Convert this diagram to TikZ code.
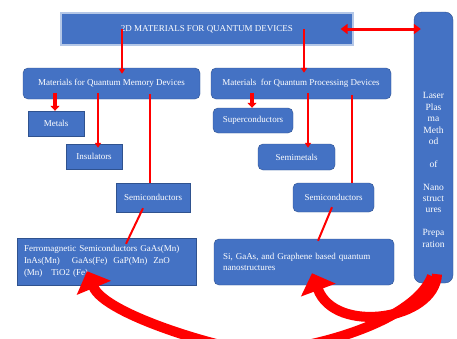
\documentclass[tikz,border=0pt]{standalone}
\usepackage{fontspec}
\setmainfont{Liberation Serif}
\usetikzlibrary{arrows.meta}
\definecolor{boxblue}{HTML}{4472C4}
\definecolor{edgeblue}{HTML}{2F528F}
\definecolor{glowblue}{HTML}{B4C7E7}
\tikzset{
  blockbox/.style={fill=boxblue, draw=edgeblue, line width=0.4pt, text=white,
    font=\fontsize{9}{11}\selectfont, inner sep=2pt, align=center},
  roundbox/.style={blockbox, rounded corners=5pt},
  link/.style={draw=red, line width=2pt},
  linkarrow/.style={link, -{Triangle[width=6pt,length=5pt]}},
  fatarrow/.style={draw=red, line width=4.5pt, -{Triangle[width=9pt,length=5pt]}},
  bigcurve/.style={draw=red, line width=10pt, -{Triangle[width=36pt,length=18pt]}}
}

\begin{document}
\begin{tikzpicture}[x=1pt,y=-1pt]
            \useasboundingbox (0,0) rectangle (457,338);
            % top box and the method column
            \node (title) at (207,29) [blockbox, draw=glowblue, line width=1.2pt, minimum width=292pt, minimum height=32pt]{2D MATERIALS FOR QUANTUM DEVICES};
            \node (laser) at (433.5,147.5) [roundbox, rounded corners=8pt, minimum width=39pt, minimum height=271pt]{};
            \node (lasertext) at (433.5,170) [text=white, align=center, font=\fontsize{9.5}{11.4}\selectfont]{Laser\\Plas\\ma\\Meth\\od\\ \\of\\ \\Nano\\struct\\ures\\ \\Prepa\\ration};
            
            % memory devices
            \node (memory) at (111.5,83.5) [roundbox, minimum width=177pt, minimum height=31pt]{Materials for Quantum Memory Devices};
            \node (metals) at (56,123.5) [blockbox, minimum width=56pt, minimum height=25pt]{Metals};
            \node (insulators) at (94,156.5) [blockbox, minimum width=56pt, minimum height=25pt]{Insulators};
            \node (semimem) at (153,197.5) [blockbox, minimum width=74pt, minimum height=29pt]{Semiconductors};
            \node (ferro) at (106.5,261.5) [blockbox, minimum width=179pt, minimum height=47pt, text width=165pt, align=left, font=\fontsize{9}{12}\selectfont]{Ferromagnetic Semiconductors GaAs(Mn)\\InAs(Mn)\quad\ GaAs(Fe)\ \ GaP(Mn)\ \ ZnO\\(Mn)\ \ \ TiO2 (Fe)};
            
            % processing devices
            \node (processing) at (301,83.5) [roundbox, minimum width=180pt, minimum height=31pt]{Materials\ \ for Quantum Processing Devices};
            \node (supercond) at (253,120.5) [roundbox, minimum width=80pt, minimum height=25pt]{Superconductors};
            \node (semimetals) at (296.5,157) [roundbox, minimum width=77pt, minimum height=26pt]{Semimetals};
            \node (semiproc) at (333.5,197.5) [roundbox, minimum width=81pt, minimum height=29pt]{Semiconductors};
            \node (si) at (304,262) [roundbox, minimum width=180pt, minimum height=46pt, text width=162pt, align=left]{Si, GaAs, and Graphene based quantum\\nanostructures};
            
            % links from the top box
            \draw[linkarrow] ([xshift=-85pt]title.center) -- ([xshift=10.5pt,yshift=-6pt]memory.north);
            \draw[linkarrow] ([xshift=97pt]title.center) -- ([xshift=3pt,yshift=-5pt]processing.north);
            \draw[link, line width=3pt, {Triangle[width=10pt,length=7pt]}-{Triangle[width=10pt,length=7pt]}] ([xshift=-13pt]title.east) -- ([xshift=7pt]laser.west |- title.east);
            
            % memory branch
            \draw[fatarrow] ([xshift=-56.5pt,yshift=6pt]memory.south) -- ([xshift=-1pt]metals.north);
            \draw[linkarrow] ([xshift=-13.5pt,yshift=6pt]memory.south) -- ([xshift=4pt,yshift=-4pt]insulators.north);
            \draw[link] ([xshift=38.5pt,yshift=5pt]memory.south) -- ([xshift=-3pt]semimem.north);
            \draw[link] ([xshift=-10pt,yshift=4pt]semimem.south) -- ([xshift=19.5pt,yshift=-6pt]ferro.north);
            
            % processing branch
            \draw[fatarrow] ([xshift=-49pt,yshift=6pt]processing.south) -- ([xshift=-1pt]supercond.north);
            \draw[linkarrow] ([xshift=7pt,yshift=6pt]processing.south) -- ([xshift=11.5pt,yshift=-4pt]semimetals.north);
            \draw[link] ([xshift=51pt,yshift=4pt]processing.south) -- ([xshift=18.5pt]semiproc.north);
            \draw[link] ([xshift=-1.5pt,yshift=5pt]semiproc.south) -- ([xshift=14pt,yshift=-2pt]si.north);
            
            % curved arrows back from the method column
            \begin{scope}
            \clip (0,0) rectangle (457,338);
            \draw[bigcurve] ([xshift=-1.5pt,yshift=7pt]laser.south) .. controls (415,320) and (320,348) .. (258,352) .. controls (225,350) and (105,315) .. ([xshift=-19.5pt,yshift=14pt]ferro.south);
            \draw[bigcurve] ([xshift=3.5pt,yshift=9pt]laser.south) .. controls (435,320) and (335,335) .. ([xshift=8pt,yshift=12pt]si.south);
            \end{scope}
            \end{tikzpicture}
\end{document}
